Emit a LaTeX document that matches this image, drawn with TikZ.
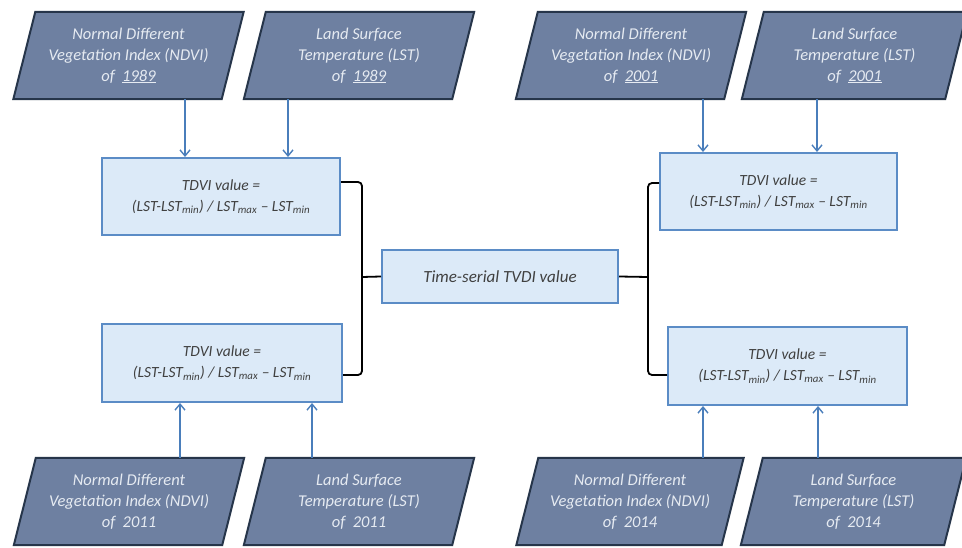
\documentclass[tikz,border=0pt]{standalone}
\usepackage{fontspec}
\setmainfont{Carlito}
\usetikzlibrary{arrows.meta,calc,backgrounds}
\definecolor{parfill}{HTML}{6E80A1}
\definecolor{pardraw}{HTML}{26354A}
\definecolor{partxt}{HTML}{E6EBF2}
\definecolor{boxfill}{HTML}{DCEAF8}
\definecolor{boxdraw}{HTML}{5B8CC6}
\definecolor{boxtxt}{HTML}{404040}
\definecolor{arrcol}{HTML}{4A7EBB}
\begin{document}
\begin{tikzpicture}[x=1pt,y=-1pt,
  partext/.style={inner sep=0pt,minimum width=208pt,minimum height=87pt,align=center,
    text=partxt,font=\fontsize{16.5}{21}\selectfont\itshape},
  parshape/.style={fill=parfill,draw=pardraw,line width=2pt,line join=miter},
  tbox/.style={draw=boxdraw,fill=boxfill,line width=2pt,inner sep=0pt,align=center,
    text=boxtxt,font=\fontsize{15.5}{21}\selectfont\itshape},
  arr/.style={draw=arrcol,line width=1.6pt,-{Straight Barb[length=6pt,width=10pt,line width=1.4pt]}},
  brk/.style={draw=black,line width=1.8pt,rounded corners=4pt}]
\useasboundingbox (0,0) rectangle (962,548);
\newcommand{\tdvi}{TDVI value =\\(LST-LST\textsubscript{min}) / LST\textsubscript{max} -- LST\textsubscript{min}}
% parallelogram nodes
\node[partext] (p1) at (128.5,55.5) {Normal Different\\Vegetation Index (NDVI)\\of \ \underline{1989}};
\node[partext] (p2) at (359,55.5) {Land Surface\\Temperature (LST)\\of \ \underline{1989}};
\node[partext] (p3) at (631,55.5) {Normal Different\\Vegetation Index (NDVI)\\of \ \underline{2001}};
\node[partext,minimum width=203pt] (p4) at (854.5,55.5) {Land Surface\\Temperature (LST)\\of \ \underline{2001}};
\node[partext] (p5) at (129,501.5) {Normal Different\\Vegetation Index (NDVI)\\of \ 2011};
\node[partext] (p6) at (359,501.5) {Land Surface\\Temperature (LST)\\of \ 2011};
\node[partext,minimum width=205pt] (p7) at (630,501.5) {Normal Different\\Vegetation Index (NDVI)\\of \ 2014};
\node[partext,minimum width=203pt] (p8) at (853.5,501.5) {Land Surface\\Temperature (LST)\\of \ 2014};
\begin{scope}[on background layer]
\foreach \n in {p1,p2,p3,p4,p5,p6,p7,p8}
  \draw[parshape] ([xshift=11pt]\n.north west) -- ([xshift=11pt]\n.north east)
     -- ([xshift=-11pt]\n.south east) -- ([xshift=-11pt]\n.south west) -- cycle;
\end{scope}
% boxes
\node[tbox,minimum width=238pt,minimum height=77pt] (tl) at (221,196.5) {\tdvi};
\node[tbox,minimum width=240pt,minimum height=78pt] (bl) at (222,363) {\tdvi};
\node[tbox,minimum width=237pt,minimum height=77pt] (tr) at (778.5,191.5) {\tdvi};
\node[tbox,minimum width=239pt,minimum height=78pt] (br) at (787.5,366) {\tdvi};
\node[tbox,minimum width=236pt,minimum height=53pt,font=\fontsize{17}{21}\selectfont\itshape] (c) at (500,276.5) {Time-serial TVDI value};
% arrows
\draw[arr] (p1.south -| 185,0) -- (tl.north -| 185,0);
\draw[arr] (p2.south -| 288,0) -- (tl.north -| 288,0);
\draw[arr] (p3.south -| 703,0) -- (tr.north -| 703,0);
\draw[arr] (p4.south -| 817,0) -- (tr.north -| 817,0);
\draw[arr] (p5.north -| 180,0) -- (bl.south -| 180,0);
\draw[arr] (p6.north -| 312,0) -- (bl.south -| 312,0);
\draw[arr] (p7.north -| 703,0) -- (br.south -| 703,0);
\draw[arr] (p8.north -| 818,0) -- (br.south -| 818,0);
% brackets
\coordinate (lj) at (362,277);
\coordinate (rj) at (648,277);
\draw[brk] (tl.east |- 0,182) -- (lj |- 0,182) -- (lj |- 0,375) -- (bl.east |- 0,375);
\draw[brk] (lj) -- (c.west);
\draw[brk] (tr.west |- 0,183) -- (rj |- 0,183) -- (rj |- 0,375) -- (br.west |- 0,375);
\draw[brk] (c.east) -- (rj);
\end{tikzpicture}
\end{document}
